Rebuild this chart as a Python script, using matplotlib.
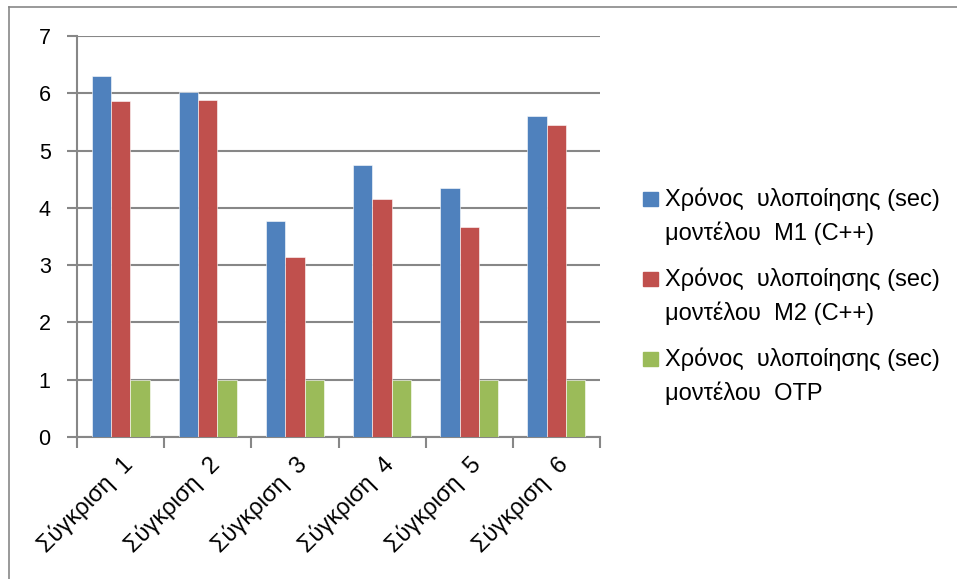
import numpy as np
import matplotlib.pyplot as plt
from matplotlib.patches import Rectangle
from matplotlib.lines import Line2D

categories = ['Σύγκριση  1', 'Σύγκριση  2', 'Σύγκριση  3',
              'Σύγκριση  4', 'Σύγκριση  5', 'Σύγκριση  6']
m1_cpp = [6.31, 6.02, 3.77, 4.75, 4.35, 5.60]
m2_cpp = [5.86, 5.88, 3.14, 4.15, 3.66, 5.45]
otp = [1.0, 1.0, 1.0, 1.0, 1.0, 1.0]
series_labels = ['Χρόνος  υλοποίησης (sec)\nμοντέλου  M1 (C++)',
                 'Χρόνος  υλοποίησης (sec)\nμοντέλου  M2 (C++)',
                 'Χρόνος  υλοποίησης (sec)\nμοντέλου  OTP']
colors = ['#4F81BD', '#C0504D', '#9BBB59']
yticks = [0, 1, 2, 3, 4, 5, 6, 7]

plt.rcParams['font.family'] = ['Liberation Sans', 'DejaVu Sans']
grey = '#878787'
W, H = 957, 579

fig = plt.figure(figsize=(W / 100, H / 100), dpi=100)
ax = fig.add_axes([77 / W, 1 - 437 / H, 523 / W, 401 / H])

x = np.arange(len(categories)) + 0.5
w = 1 / 4.5
for i, vals in enumerate([m1_cpp, m2_cpp, otp]):
    ax.bar(x + (i - 1) * w, vals, width=w, color=colors[i],
           edgecolor='white', linewidth=0.4, zorder=3)

ax.set_xlim(0, len(categories))
ax.set_ylim(0, 7)
ax.set_yticks(yticks)
ax.set_xticks(np.arange(len(categories) + 1))
ax.set_xticklabels([])
ax.set_xticks(x, minor=True)
ax.set_xticklabels(categories, minor=True, rotation=45, ha='right',
                   rotation_mode='anchor', fontsize=17)
ax.tick_params(axis='x', which='major', length=8, width=1.5, color=grey)
ax.tick_params(axis='x', which='minor', length=0, pad=11)
ax.tick_params(axis='y', length=7, width=1.5, color=grey, labelsize=15.5, pad=12)

ax.grid(axis='y', color=grey, linewidth=1.5, zorder=0)
for s in ['top', 'right']:
    ax.spines[s].set_visible(False)
for s in ['left', 'bottom']:
    ax.spines[s].set_color(grey)
    ax.spines[s].set_linewidth(1.5)

# legend drawn by hand so each square sits on the first line of its label
for i, lab in enumerate(series_labels):
    yc = 199 + i * 80
    fig.patches.append(Rectangle((643 / W, 1 - (yc + 7) / H), 15 / W, 14 / H,
                                 transform=fig.transFigure, color=colors[i]))
    for j, line in enumerate(lab.split('\n')):
        fig.text(665 / W, 1 - (yc + j * 34) / H, line, fontsize=17,
                 va='center', ha='left')

# chart area border (left and top edges)
fig.add_artist(Line2D([9 / W, 9 / W], [0, 1 - 7 / H],
                      transform=fig.transFigure, color=grey, lw=1.2))
fig.add_artist(Line2D([9 / W, 1], [1 - 7 / H, 1 - 7 / H],
                      transform=fig.transFigure, color=grey, lw=1.2))

fig.savefig('out.png', dpi=100)
